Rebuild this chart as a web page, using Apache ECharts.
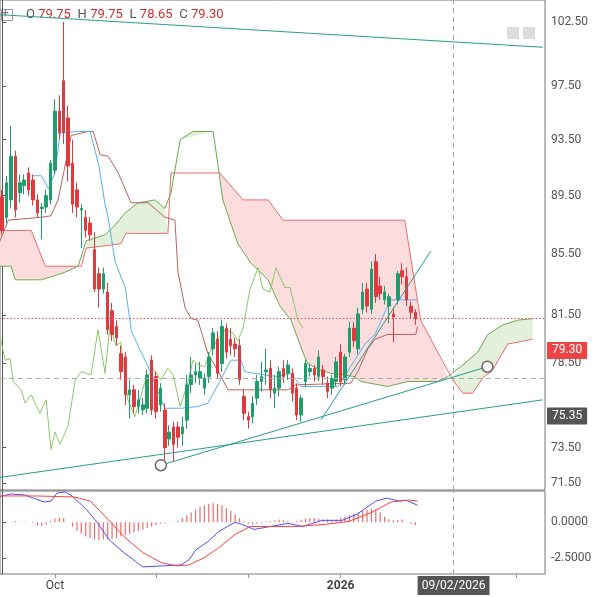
<!DOCTYPE html>
<html>
<head>
<meta charset="utf-8">
<script src="https://cdn.jsdelivr.net/npm/echarts@6/dist/echarts.min.js"></script>
<style>html,body{margin:0;padding:0;background:#fff}#chart{width:597px;height:597px}</style>
</head>
<body>
<div id="chart"></div>
<script>
// candles: [open, close, low, high]
const candles = [
  [89.4,87.1,86.8,89.9],[88.0,90.4,87.6,90.9],[89.2,92.3,88.6,94.5],[92.3,88.5,88.0,92.7],[89.7,90.4,89.0,91.0],
  [90.2,90.6,89.6,91.0],[91.1,89.9,89.5,91.5],[90.6,89.2,88.8,91.0],[89.2,88.3,88.0,89.6],[88.6,88.7,86.5,89.0],
  [88.7,89.5,88.3,89.9],[89.2,91.8,88.9,92.0],[91.3,95.6,91.0,96.5],[95.6,94.0,93.5,96.8],[97.9,94.0,93.2,102.5],
  [95.1,91.6,90.5,96.0],[91.8,88.9,88.3,93.5],[89.9,88.7,88.0,90.4],[88.5,88.6,85.9,88.9],[88.0,87.1,86.6,88.5],
  [87.6,86.8,86.4,88.0],[85.8,83.2,83.0,87.0],[84.2,83.2,82.0,84.6],[83.2,84.2,82.9,84.6],[83.0,80.6,80.3,83.6],
  [81.8,80.3,79.9,82.3],[80.8,80.1,79.6,81.2],[79.1,78.0,77.5,79.6],[78.9,76.6,76.0,79.2],[76.6,76.9,75.2,77.5],
  [76.9,75.9,75.5,77.2],[75.9,76.3,75.5,76.9],[75.7,76.0,75.4,76.4],[75.8,77.8,75.5,78.1],[78.7,75.7,75.4,79.0],
  [77.7,75.6,75.2,78.0],[76.0,77.0,75.6,77.3],[75.7,73.5,72.8,76.1],[74.0,74.4,73.6,74.8],[74.7,73.7,72.7,75.0],
  [74.7,74.1,73.5,75.0],[74.3,74.7,73.6,75.3],[75.1,77.2,74.6,77.8],[77.2,77.8,76.7,78.9],[77.8,78.0,77.3,78.5],
  [77.6,78.0,77.2,78.6],[77.0,77.6,76.6,77.9],[77.7,78.9,77.3,79.2],[79.4,80.4,79.0,80.7],[80.0,77.9,77.6,80.5],
  [78.5,80.8,78.0,81.2],[80.7,79.2,78.8,81.0],[80.0,79.6,79.0,80.7],[79.7,79.4,78.9,80.1],[79.6,77.5,77.2,80.0],
  [76.5,75.5,75.1,76.9],[75.3,75.1,74.6,75.6],[75.3,76.1,74.9,76.5],[76.4,77.4,76.0,77.8],[77.4,77.7,76.8,78.6],
  [78.0,78.1,77.2,79.4],[78.2,76.9,76.4,78.7],[76.7,77.0,75.8,77.8],[77.0,78.0,76.5,78.3],[78.2,77.7,77.3,78.7],
  [77.9,78.4,77.5,78.7],[77.9,76.7,76.2,78.2],[77.0,75.4,75.1,77.3],[75.4,76.4,75.0,76.6],[77.4,78.5,77.1,78.7],
  [78.0,78.2,77.7,78.5],[78.2,77.8,77.4,78.4],[77.7,78.9,77.4,79.3],[78.1,77.7,77.2,78.4],[77.3,76.8,76.4,77.7],
  [77.0,77.6,76.6,77.8],[77.4,78.6,77.1,78.9],[79.2,77.4,77.1,79.7],[77.5,78.9,77.2,79.1],[79.2,80.7,78.9,81.1],
  [80.7,79.9,79.5,81.1],[79.4,81.6,79.1,82.0],[81.9,83.0,81.6,83.6],[83.2,82.1,81.7,83.6],[81.9,84.5,81.6,85.0],
  [85.0,82.7,82.3,85.5],[83.4,82.9,82.5,84.0],[82.5,83.0,82.2,83.4],[82.1,82.7,81.0,82.9],[81.6,81.4,79.8,82.0],
  [82.5,84.2,82.2,84.4],[84.4,84.0,83.5,84.9],[84.0,82.5,82.1,84.6],[82.1,81.7,81.3,82.4],[81.7,81.3,80.9,81.9]
];
const slotCount = 124;

// ichimoku lines as [bar index, price] breakpoints
const senkouB = [[-0.9,87.1],[6.6,87.1],[9.8,84.7],[18,84.7],[19.1,85.9],[27,86.2],[28.2,86.9],[37.7,86.9],[38.4,91.1],[49.5,91.1],[54.8,89.2],[60.5,89.2],[63.9,87.8],[91.6,87.8],[95.2,81.2],[99.1,79.2],[102.5,77.5],[104.8,76.7],[107,76.7],[109.3,77.6],[111.6,78.1],[115,79.7],[120.7,80.0]];
const senkouA = [[-0.9,84.7],[2,84.7],[3,83.8],[8.9,83.8],[14.3,84.3],[17.3,84.7],[19.1,86.4],[23.4,86.8],[25.2,87.3],[28,88.3],[30.9,89.0],[34.8,89.2],[37,88.6],[38.4,89.7],[40.5,93.5],[43.4,94.1],[48,94.1],[50.2,89.2],[53.6,86.2],[56.6,84.9],[60.5,83.8],[63.2,82.1],[65.7,81.2],[68.4,79.2],[69.5,78.5],[72.3,78.1],[74.8,77.9],[80.2,77.7],[81.6,77.4],[87.7,77.1],[92.3,77.4],[99.1,77.4],[101.4,77.7],[104.8,78.4],[108.2,79.2],[110.5,80.3],[113.9,80.9],[117.3,81.2],[120.7,81.3]];
const tenkan = [[6.6,90.9],[8.9,90.9],[10.5,90.0],[12,91.1],[13.2,94.0],[17.3,94.1],[20,94.1],[22,91.6],[23.4,88.9],[24.1,88.0],[25.7,85.0],[28,83.3],[29.4,80.5],[33.2,78.3],[37,75.8],[40.7,75.8],[44.5,75.9],[46.8,76.1],[49.5,77.4],[52,78.7],[54.3,78.7],[55.2,78.0],[59.8,77.8],[62.7,77.7],[65.7,77.9],[68,77.1],[71.1,77.1],[76.4,77.1],[80.2,78.7],[82.5,79.7],[84.8,80.3],[87.7,82.1],[88.4,82.5],[94.5,82.5]];
const kijun = [[-0.9,86.1],[1.4,87.8],[8.9,88.0],[11.1,88.1],[12.7,89.2],[14.3,91.6],[15.7,93.8],[19.5,94.1],[20.7,94.1],[22.3,92.4],[24.1,92.3],[26.4,91.1],[29.3,89.0],[33.2,89.0],[37,88.0],[39.3,87.8],[40,84.3],[41.6,82.0],[43,81.3],[44.5,81.2],[45.5,80.3],[46.8,79.1],[49,78.1],[51.4,76.9],[65,76.9],[66.8,77.2],[79.3,77.3],[80.9,78.0],[83.2,79.4],[84.8,80.0],[87.7,80.3],[94.1,80.3],[94.5,80.8]];
const chikou = [[-0.9,80.6],[0.7,78.7],[1.8,78.8],[2.5,77.4],[4.3,76.9],[5.2,76.1],[6.6,76.6],[8.6,75.5],[10,76.3],[11.1,73.4],[12,74.4],[13.2,73.7],[15,74.8],[16.6,77.5],[18,78.0],[20.2,77.8],[21.8,80.6],[23.4,77.9],[24.5,80.8],[25.9,79.6],[27,79.8],[28.6,76.3],[30.2,75.3],[32.5,77.4],[34.3,78.2],[36.1,77.5],[37.7,78.2],[38.9,77.8],[40.5,75.9],[42.3,77.4],[43.4,78.7],[44.9,78.4],[46.1,78.3],[47.5,79.4],[50.7,80.6],[52.5,80.4],[53.6,79.9],[54.8,80.7],[56.4,83.2],[58.2,84.6],[59.3,83.2],[60.9,83.0],[62.3,84.6],[64.3,83.3],[65.5,83.3],[67.3,81.2],[68.4,80.7]];
// cloud regions [from, to, colour]
const cloudRegions = [[-1,18.3,'#fcdcdc'],[18.3,38,'#e2f0dc'],[39.9,49.3,'#e2f0dc'],[49.3,102.3,'#fcdcdc'],[102.3,121,'#e2f0dc']];

// trend lines
const trendTop = [[-0.9,103.1],[123,100.5]];
const trendLow = [[-0.9,71.8],[123,76.3]];
const trendMid = [[36.1,72.5],[110.4,78.3]];
const trendSteep = [[72.5,75.1],[97.5,85.7]];

const priceTicks = [102.5,97.5,93.5,89.5,85.5,81.5,78.5,73.5,71.5];

// MACD
const macdLine = [[-0.9,1.79],[2,2.0],[5.2,1.93],[7.7,1.64],[9.5,1.43],[11.1,1.5],[12.5,2.07],[14.3,2.14],[15.9,1.86],[19.1,0.93],[21.6,0],[24.3,-1.21],[27.7,-2.14],[32,-3.14],[36.4,-3.07],[40.7,-3.0],[42.5,-2.64],[44.1,-1.93],[46.8,-1.36],[49.3,-0.64],[52.95,0],[54.5,-0.14],[57.3,-0.5],[59.8,-0.36],[65,-0.07],[68.4,-0.29],[72.7,0.14],[77.3,0.14],[80.7,0.57],[85,1.5],[87.5,1.71],[90.2,1.5],[91.8,1.57],[94.5,1.21]];
const signalLine = [[-0.9,1.86],[7.7,1.86],[16.4,1.79],[20,1.5],[23.4,0.43],[27.7,-1.0],[32,-2.14],[36.4,-2.86],[39.8,-3.07],[42.5,-3.0],[45.9,-2.5],[49.3,-1.79],[52.95,-0.86],[56.4,-0.29],[61.6,-0.29],[66.8,-0.29],[73.6,-0.14],[78.9,0.07],[84.1,0.71],[88.4,1.43],[92.7,1.57],[94.5,1.5]];
const macdHist = [0.1,0,0.05,0.1,0.05,0.05,0,-0.05,-0.2,-0.25,-0.15,0.1,0.25,0.35,0.3,0,-0.3,-0.6,-0.8,-1.0,
  -1.1,-1.2,-1.25,-1.2,-1.2,-1.15,-1.1,-1.0,-0.9,-0.8,-0.7,-0.6,-0.5,-0.4,-0.3,-0.2,-0.1,-0.05,0,0.05,
  0.1,0.3,0.5,0.7,0.9,1.1,1.2,1.3,1.35,1.3,1.2,1.0,0.8,0.55,0.3,0.1,-0.1,-0.15,-0.1,-0.05,
  0.05,0.1,0.15,0.2,0.15,0.1,0.05,0.1,0.2,0.25,0.3,0.3,0.25,0.2,0.2,0.15,0.2,0.3,0.4,0.5,
  0.6,0.7,0.8,0.9,0.95,0.9,0.7,0.4,0.2,0.15,0.15,0.2,0,-0.1,-0.2];
const macdTicks = [0, -2.5];

const dateLabels = {12: 'Oct', 77: '2026'};
const dateTicks = [12, 35, 56, 77, 117];
const markerDate = '09/02/2026';
const markerIndex = 102.7;

const cats = Array.from({length: slotCount}, (_, i) => String(i));
const teal = '#2a9d8f';
const chart = echarts.init(document.getElementById('chart'));

function lineSeries(data, color, width, xi, yi, extra) {
  return Object.assign({type: 'line', data: data, xAxisIndex: xi, yAxisIndex: yi, symbol: 'none',
    lineStyle: {color: color, width: width}, silent: true, animation: false}, extra || {});
}

function boxLabel(value, text, bg) {
  return {yAxis: value, lineStyle: {color: 'transparent', width: 0},
    label: {show: true, position: 'end', formatter: text, color: '#fff', backgroundColor: bg,
      padding: [3, 5, 2, 5], fontSize: 12, fontFamily: 'Roboto', distance: 2}};
}

const option = {
  animation: false,
  backgroundColor: '#fff',
  grid: [
    {left: 0, right: 52, top: 0, height: 490, show: true, borderColor: '#777', borderWidth: 1},
    {left: 0, right: 52, top: 491, height: 83, show: true, borderColor: '#777', borderWidth: 1}
  ],
  xAxis: [
    {type: 'category', data: cats, gridIndex: 0, axisLine: {show: false}, axisTick: {show: false}, axisLabel: {show: false}},
    {type: 'value', gridIndex: 0, min: -0.5, max: slotCount - 0.5, show: false},
    {type: 'category', data: cats, gridIndex: 1, axisLine: {show: false, onZero: false},
      axisTick: {show: true, alignWithLabel: true, length: 4, lineStyle: {color: '#999'}, interval: (i) => dateTicks.indexOf(i) >= 0},
      axisLabel: {interval: (i) => dateLabels[i] !== undefined,
        formatter: (v) => v === '77' ? '{b|' + dateLabels[v] + '}' : (dateLabels[v] || ''),
        color: '#444', fontSize: 12, fontFamily: 'Roboto', margin: 6,
        rich: {b: {fontWeight: 'bold', color: '#444', fontSize: 12, fontFamily: 'Roboto'}}}},
    {type: 'value', gridIndex: 1, min: -0.5, max: slotCount - 0.5, show: false}
  ],
  yAxis: [
    {type: 'log', gridIndex: 0, position: 'right', min: 71.11, max: 104.28, logBase: 10,
      axisLine: {show: true, lineStyle: {color: '#555'}}, splitLine: {show: false},
      axisTick: {show: true, length: 4, customValues: priceTicks, lineStyle: {color: '#555'}},
      axisLabel: {customValues: priceTicks, formatter: (v) => (+v).toFixed(2), color: '#555', fontSize: 12, fontFamily: 'Roboto', margin: 6}},
    {type: 'value', gridIndex: 1, position: 'right', min: -3.64, max: 2.21,
      axisLine: {show: true, lineStyle: {color: '#555'}}, splitLine: {show: false},
      axisTick: {show: true, length: 4, customValues: macdTicks, lineStyle: {color: '#555'}},
      axisLabel: {customValues: macdTicks, formatter: (v) => (+v).toFixed(4), color: '#555', fontSize: 12, fontFamily: 'Roboto', margin: 6}}
  ],
  graphic: [
    {type: 'rect', left: 1, top: 9, shape: {width: 11, height: 11}, style: {fill: '#fff', stroke: '#999'}},
    {type: 'text', left: 2, top: 8, style: {text: '+', fill: '#777', font: '12px Roboto'}},
    {type: 'text', left: 26, top: 8, style: {
      text: '{g|O} {r|79.75}  {g|H} {r|79.75}  {g|L} {r|78.65}  {g|C} {r|79.30}',
      rich: {g: {fill: '#555', font: '13px Roboto'}, r: {fill: '#d32f2f', font: '13px Roboto'}}}},
    {type: 'rect', left: 507, top: 27, shape: {width: 12, height: 12}, style: {fill: '#ddd'}},
    {type: 'rect', left: 523, top: 27, shape: {width: 12, height: 12}, style: {fill: '#ddd'}}
  ],
  series: [
    {type: 'custom', xAxisIndex: 1, yAxisIndex: 0, silent: true, z: 1,
      data: cloudRegions.map((r) => [r[0], 80]),
      renderItem: function (params, api) {
        const r = cloudRegions[params.dataIndex];
        const a = senkouA.filter((p) => p[0] >= r[0] && p[0] <= r[1]);
        const b = senkouB.filter((p) => p[0] >= r[0] && p[0] <= r[1]).reverse();
        const pts = a.concat(b).map((p) => api.coord(p));
        if (pts.length < 3) return null;
        return {type: 'polygon', shape: {points: pts}, style: {fill: r[2], stroke: null}};
      }},
    lineSeries(senkouB, '#f06a6a', 1, 1, 0, {z: 2}),
    lineSeries(senkouA, '#6aaa50', 1, 1, 0, {z: 2}),
    lineSeries(chikou, '#8cc66a', 1, 1, 0, {z: 2}),
    lineSeries(kijun, '#b9625c', 1, 1, 0, {z: 2}),
    lineSeries(tenkan, '#5ab0f5', 1, 1, 0, {z: 2}),
    {type: 'candlestick', data: candles, xAxisIndex: 0, yAxisIndex: 0, barWidth: 3, z: 3,
      itemStyle: {color: '#1f9d6c', color0: '#e0393e', borderColor: '#1f9d6c', borderColor0: '#e0393e', borderWidth: 1},
      markLine: {silent: true, symbol: 'none', animation: false, data: [
        {yAxis: 81.3, lineStyle: {color: '#f05050', type: [1.5, 2], width: 1}, label: {show: false}},
        {yAxis: 77.6, lineStyle: {color: '#aaa', type: [5, 4], width: 1}, label: {show: false}}
      ]}},
    lineSeries(trendTop, teal, 1, 1, 0, {z: 4}),
    lineSeries(trendLow, teal, 1, 1, 0, {z: 4}),
    lineSeries(trendSteep, teal, 1, 1, 0, {z: 4}),
    lineSeries(trendMid, teal, 1, 1, 0, {z: 4, symbol: 'circle', symbolSize: 11, showSymbol: true,
      itemStyle: {color: '#fff', borderColor: '#666', borderWidth: 1.5},
      markLine: {silent: true, symbol: 'none', data: [
        {xAxis: markerIndex, lineStyle: {color: '#aaa', type: [5, 4], width: 1}, label: {show: false}},
        boxLabel(79.3, '79.30', '#ef4444'),
        boxLabel(75.35, '75.35', '#555')
      ]}}),
    {type: 'bar', data: macdHist, xAxisIndex: 2, yAxisIndex: 1, barWidth: 1.2, silent: true,
      itemStyle: {color: '#f26b6b'}},
    lineSeries(macdLine, '#4d4dff', 1, 3, 1, {z: 3}),
    lineSeries(signalLine, '#ff4040', 1, 3, 1, {z: 3,
      markLine: {silent: true, symbol: 'none', data: [{xAxis: markerIndex}],
        lineStyle: {color: '#aaa', type: [5, 4], width: 1},
        label: {show: true, position: 'start', formatter: markerDate, color: '#fff', backgroundColor: '#555',
          padding: [4, 4, 3, 4], fontSize: 12, fontFamily: 'Roboto', distance: 2}}})
  ]
};
chart.setOption(option);
</script>
</body>
</html>
